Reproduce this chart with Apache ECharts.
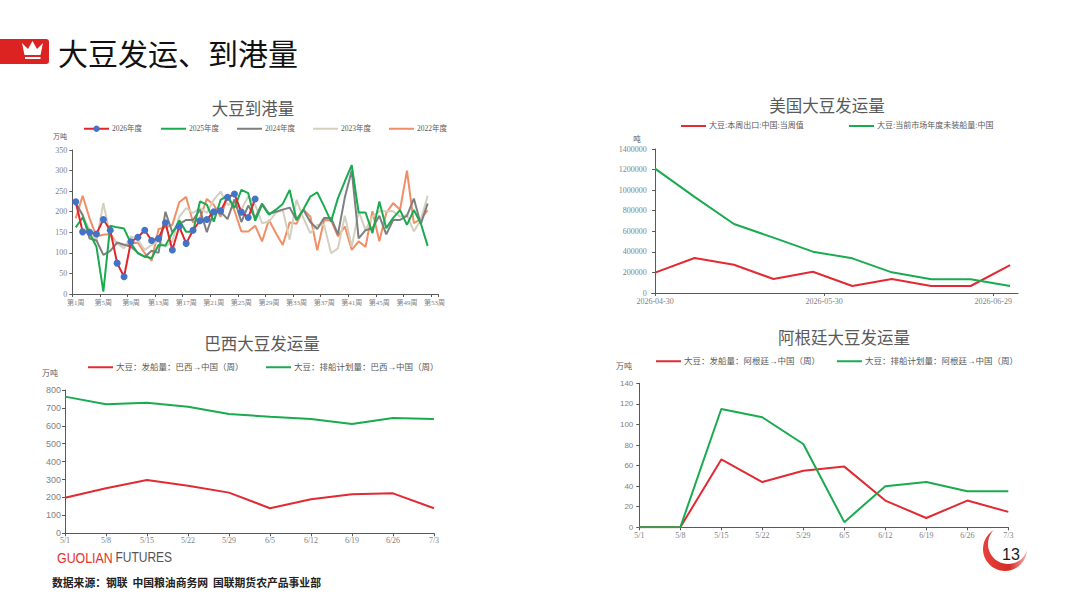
<!DOCTYPE html>
<html><head><meta charset="utf-8">
<script src="https://cdn.jsdelivr.net/npm/echarts@6/dist/echarts.min.js"></script>
<style>html,body{margin:0;padding:0;background:#fff}#c{width:1080px;height:608px}</style>
</head><body><div id="c"></div>
<script>
// ---------- data ----------
const weekLabels = [];
for (let i = 1; i <= 53; i++) weekLabels.push('第' + i + '周');
const arrive2026 = [224,151,150,146,181,155,75,42,127,138,155,130,135,173,107,164,123,155,178,181,200,202,235,243,199,186,231];
const arrive2025 = [162,186,148,115,6,166,162,159,123,99,91,87,119,118,148,179,151,151,225,217,176,229,239,209,253,245,178,217,193,205,219,253,180,206,237,247,213,176,233,274,313,198,198,148,225,160,185,204,168,204,172,117];
const arrive2024 = [221,192,135,130,95,105,125,120,115,100,90,105,100,200,150,170,180,180,205,150,200,200,182,230,175,215,185,220,195,200,205,210,180,205,175,158,185,185,145,235,300,135,155,160,190,145,180,180,190,232,170,220];
const arrive2023 = [217,192,156,128,221,140,123,111,140,132,107,119,128,115,128,188,209,197,209,197,229,249,217,221,205,237,217,172,176,197,205,132,229,184,148,168,168,99,111,190,115,201,156,188,201,201,201,188,192,152,180,239];
const arrive2022 = [184,239,184,140,144,146,122,119,122,125,99,81,158,162,168,223,236,174,184,231,217,188,236,203,152,152,166,128,180,148,119,174,171,205,188,106,180,179,140,164,107,128,115,201,128,197,221,205,300,172,182,204];

const usDates = ['2026-04-30','2026-05-07','2026-05-14','2026-05-21','2026-05-28','2026-06-04','2026-06-11','2026-06-18','2026-06-25','2026-07-02'];
const usTickDates = ['2026-04-30','2026-05-30','2026-06-29'];
const usExport = [198000,340000,275000,136000,207000,68000,136000,68000,68000,272000];
const usUnshipped = [1209000,935000,671000,538000,402000,337000,201000,133000,133000,68000];

const shipWeeks = ['5/1','5/8','5/15','5/22','5/29','6/5','6/12','6/19','6/26','7/3'];
const brShip = [199,251,298,266,227,140,190,218,223,140];
const brPlan = [763,720,729,707,666,651,638,610,644,638];
const arShip = [0,0,66,44,55,59,26,9,26,15];
const arPlan = [0,0,115,107,81,5,40,44,35,35];

// ---------- helpers ----------
const CJK = "'Noto Sans CJK SC'";
const SERIF = "'Liberation Serif','Noto Sans CJK SC'";
const AX = '#595959', LBL = '#7f7f7f';
const base = Date.UTC(2026, 3, 30);
const dayOf = d => (Date.parse(d + 'T00:00:00Z') - base) / 864e5;
const dateOf = v => new Date(base + Math.round(v) * 864e5).toISOString().slice(0, 10);

function yAx(gi, max, interval, fs, ff, margin) {
  return { type: 'value', gridIndex: gi, min: 0, max: max, interval: interval,
    axisLine: { show: true, lineStyle: { color: AX, width: 1 } },
    axisTick: { show: true, length: 3, lineStyle: { color: AX } },
    splitLine: { show: false },
    axisLabel: { color: LBL, fontSize: fs, fontFamily: ff, margin: margin, formatter: v => String(v) } };
}
function catX(gi, data, gap, interval, fs, margin) {
  return { type: 'category', gridIndex: gi, data: data, boundaryGap: gap,
    axisLine: { show: true, lineStyle: { color: AX, width: 1 } },
    axisTick: { show: true, length: 3, interval: interval, lineStyle: { color: AX } },
    axisLabel: { color: LBL, fontSize: fs, fontFamily: SERIF, interval: interval, margin: margin } };
}
function leg(name, left, cy, fs, showSymbol) {
  return { data: [name], left: left, top: cy - 5, padding: 0, itemWidth: 25, itemHeight: 8, itemGap: 0,
    itemStyle: showSymbol ? {} : { opacity: 0 },
    textStyle: { color: '#595959', fontSize: fs, fontFamily: SERIF, padding: [0, 0, 0, -2] } };
}
function line(name, xi, data, color, extra) {
  return Object.assign({ name: name, type: 'line', xAxisIndex: xi, yAxisIndex: xi, data: data,
    symbol: 'none', lineStyle: { color: color, width: 2 }, itemStyle: { color: color }, z: 2 }, extra || {});
}
function txt(x, y, text, size, color) {
  return { type: 'text', x: x, y: y,
    style: { text: text, fill: color, fontSize: size, fontFamily: CJK,
      align: 'center', verticalAlign: 'middle', textAlign: 'center', textVerticalAlign: 'middle' } };
}

const usPairsExp = usDates.map((d, i) => [dayOf(d), usExport[i]]);
const usPairsUn = usDates.map((d, i) => [dayOf(d), usUnshipped[i]]);
const usTicks = usTickDates.map(dayOf);

const C26 = '#e3242b', BLUE = '#4472c4', G = '#1aab50', GR = '#7f7f7f', BE = '#d3d0bf', OR = '#f28e65';
const RED = '#e12a33';

const option = {
  animation: false,
  backgroundColor: '#ffffff',
  grid: [
    { left: 72.3, top: 150, width: 365.7, height: 144 },
    { left: 651.7, top: 149, width: 366.3, height: 144 },
    { left: 65, top: 390, width: 369, height: 143.3 },
    { left: 639.3, top: 383.3, width: 369, height: 144 }
  ],
  xAxis: [
    catX(0, weekLabels, true, 3, 7, 5),
    { type: 'value', gridIndex: 1, min: -0.6, max: 64.4,
      axisLine: { show: true, lineStyle: { color: AX } },
      axisTick: { show: true, length: 3, customValues: usTicks, lineStyle: { color: AX } },
      splitLine: { show: false },
      axisLabel: { color: LBL, fontSize: 8, fontFamily: SERIF, margin: 4, customValues: usTicks,
        formatter: v => dateOf(v) } },
    catX(2, shipWeeks, false, 0, 8, 3),
    catX(3, shipWeeks, false, 0, 8, 4)
  ],
  yAxis: [
    yAx(0, 350, 50, 8, SERIF, 5),
    yAx(1, 1400000, 200000, 8, SERIF, 5),
    yAx(2, 800, 100, 9, "'Liberation Sans'", 4),
    yAx(3, 140, 20, 8, "'Liberation Sans'", 6)
  ],
  legend: [
    leg('2026年度', 83, 130, 7.5, true),
    leg('2025年度', 160, 130, 7.5),
    leg('2024年度', 236, 130, 7.5),
    leg('2023年度', 312, 130, 7.5),
    leg('2022年度', 388, 130, 7.5),
    leg('大豆:本周出口:中国:当周值', 680, 127, 8),
    leg('大豆:当前市场年度未装船量:中国', 848, 127, 8),
    leg('大豆：发船量：巴西→中国（周）', 87, 368, 8.5),
    leg('大豆：排船计划量：巴西→中国（周）', 265, 368, 8.5),
    leg('大豆：发船量：阿根廷→中国（周）', 655, 362, 8.5),
    leg('大豆：排船计划量：阿根廷→中国（周）', 836, 362, 8.5)
  ],
  series: [
    line('2022年度', 0, arrive2022, OR),
    line('2023年度', 0, arrive2023, BE),
    line('2024年度', 0, arrive2024, GR),
    line('2025年度', 0, arrive2025, G),
    line('2026年度', 0, arrive2026, C26, { symbol: 'circle', symbolSize: 7, showAllSymbol: true,
      itemStyle: { color: BLUE }, lineStyle: { color: C26, width: 2 }, z: 3 }),
    line('大豆:本周出口:中国:当周值', 1, usPairsExp, RED),
    line('大豆:当前市场年度未装船量:中国', 1, usPairsUn, G),
    line('大豆：发船量：巴西→中国（周）', 2, brShip, RED),
    line('大豆：排船计划量：巴西→中国（周）', 2, brPlan, G),
    line('大豆：发船量：阿根廷→中国（周）', 3, arShip, RED),
    line('大豆：排船计划量：阿根廷→中国（周）', 3, arPlan, G)
  ],
  graphic: [
    { type: 'circle', z: -10, shape: { cx: 1005, cy: 549, r: 22 },
      style: { fill: new echarts.graphic.LinearGradient(0, 0, 1, 0, [{ offset: 0, color: '#e8413c' }, { offset: 0.6, color: '#d42a26' }, { offset: 1, color: '#f3b2ae' }]) } },
    { type: 'circle', z: -9, shape: { cx: 1008, cy: 544, r: 20 }, style: { fill: '#ffffff' } },
    { type: 'rect', shape: { x: -4, y: 39, width: 53, height: 25, r: 3 }, style: { fill: '#dd2222' } },
    { type: 'polygon', shape: { points: [[22,43],[28,49],[32.5,41],[37,49],[43,43],[40.5,55],[24.5,55]] }, style: { fill: '#ffffff' } },
    { type: 'rect', shape: { x: 25, y: 57, width: 15.5, height: 2 }, style: { fill: '#ffffff' } },
    { type: 'text', x: 58, y: 52, style: { text: '大豆发运、到港量', fill: '#111111', fontSize: 30, fontFamily: CJK,
      align: 'left', verticalAlign: 'middle', textAlign: 'left', textVerticalAlign: 'middle' } },
    txt(253, 108, '大豆到港量', 16.5, '#595959'),
    txt(827, 105, '美国大豆发运量', 16.5, '#595959'),
    txt(262, 343, '巴西大豆发运量', 16.5, '#595959'),
    txt(844, 337, '阿根廷大豆发运量', 16.5, '#595959'),
    txt(60, 136, '万吨', 7, '#595959'),
    txt(637, 138, '吨', 7.5, '#595959'),
    txt(50, 372, '万吨', 8, '#595959'),
    txt(624, 365, '万吨', 8, '#595959'),
    { type: 'text', x: 57, y: 557, scaleX: 0.8, style: { text: '{a|GUOLIAN} {b|FUTURES}', align: 'left', verticalAlign: 'middle',
      textAlign: 'left', textVerticalAlign: 'middle',
      rich: { a: { fill: '#e5332a', color: '#e5332a', fontSize: 15.5, fontFamily: "'Liberation Sans'" },
              b: { fill: '#555555', color: '#555555', fontSize: 15, fontFamily: "'Liberation Sans'" } } } },
    { type: 'text', x: 52, y: 582, style: { text: '数据来源：钢联  中国粮油商务网  国联期货农产品事业部', fill: '#222222',
      fontSize: 10.8, fontWeight: 'bold', fontFamily: CJK, align: 'left', verticalAlign: 'middle', textAlign: 'left', textVerticalAlign: 'middle' } },
    { type: 'text', x: 1011, y: 554, style: { text: '13', fill: '#1a1a1a', fontSize: 16, fontFamily: "'Liberation Sans'",
      align: 'center', verticalAlign: 'middle', textAlign: 'center', textVerticalAlign: 'middle' } }
  ]
};

const chart = echarts.init(document.getElementById('c'), null, { renderer: 'svg', width: 1080, height: 608 });
chart.setOption(option);
</script>
</body></html>
